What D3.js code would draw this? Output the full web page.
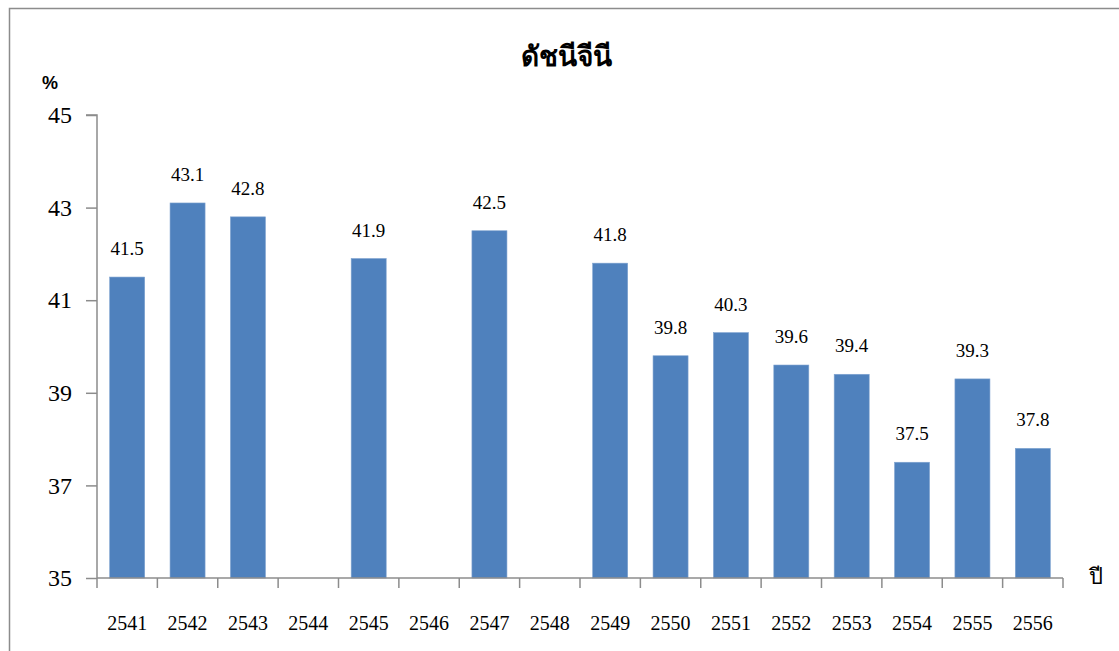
<!DOCTYPE html>
<html>
<head>
<meta charset="utf-8">
<script src="https://cdn.jsdelivr.net/npm/d3@7"></script>
<style>
  html, body { margin: 0; padding: 0; background: #fff; }
  svg { display: block; }
  .serif { font-family: "Liberation Serif", "Times New Roman", Times, "DejaVu Serif", serif; }
  .sans { font-family: "Liberation Sans", Arial, sans-serif; }
</style>
</head>
<body>
<svg id="chart" width="1119" height="651"></svg>
<script>
const title = "ดัชนีจีนี";
const yUnit = "%";
const xUnit = "ปี";
const years = ["2541","2542","2543","2544","2545","2546","2547","2548","2549","2550","2551","2552","2553","2554","2555","2556"];
const giniValues = [41.5, 43.1, 42.8, null, 41.9, null, 42.5, null, 41.8, 39.8, 40.3, 39.6, 39.4, 37.5, 39.3, 37.8];
const yTicks = [35, 37, 39, 41, 43, 45];

(function () {
const svg = d3.select("#chart");
const W = 1119, H = 651;

// outer chart border (left and top visible)
svg.append("rect")
  .attr("x", 9.5).attr("y", 8.5)
  .attr("width", W + 20).attr("height", H + 20)
  .attr("fill", "#fff").attr("stroke", "#8c8c8c").attr("stroke-width", 1.5);

const pLeft = 97, pRight = 1063, pTop = 115, pBottom = 578;

const x = d3.scaleBand().domain(years).range([pLeft, pRight]).paddingInner(0.42).paddingOuter(0.21);
const y = d3.scaleLinear().domain([35, 45]).range([pBottom, pTop]);

// bars
const data = years.map((yr, i) => ({ yr, v: giniValues[i] })).filter(d => d.v !== null);
svg.append("g").selectAll("rect").data(data).enter().append("rect")
  .attr("x", d => x(d.yr))
  .attr("y", d => y(d.v))
  .attr("width", x.bandwidth())
  .attr("height", d => y(35) - y(d.v))
  .attr("fill", "#4F81BD")
  .attr("stroke", "#7FA3D0").attr("stroke-width", 0.6);

// data labels
svg.append("g").selectAll("text").data(data).enter().append("text")
  .attr("class", "serif")
  .attr("x", d => x(d.yr) + x.bandwidth() / 2)
  .attr("y", d => y(d.v) - 22)
  .attr("text-anchor", "middle")
  .style("font-size", "19px").attr("fill", "#000")
  .text(d => d.v.toFixed(1));

// y axis
const yAxis = d3.axisLeft(y).tickValues(yTicks).tickSize(11).tickPadding(14).tickFormat(d3.format("d"));
const gy = svg.append("g").attr("transform", `translate(${pLeft},0)`).call(yAxis);
gy.attr("font-family", null).attr("font-size", null);
gy.select(".domain").attr("stroke", "#8c8c8c").attr("stroke-width", 1.5).attr("d", `M-11,${pTop}H0V${pBottom}`);
gy.selectAll(".tick line").attr("stroke", "#8c8c8c").attr("stroke-width", 1.5);
gy.selectAll(".tick text").attr("class", "serif").style("font-size", "24px").attr("fill", "#000");

// x axis with boundary ticks
const gx = svg.append("g").attr("transform", `translate(0,${pBottom})`);
gx.append("line").attr("x1", pLeft).attr("x2", pRight).attr("y1", 0).attr("y2", 0)
  .attr("stroke", "#8c8c8c").attr("stroke-width", 1.5);
const step = x.step();
const bounds = d3.range(years.length + 1).map(i => pLeft + i * step);
gx.selectAll("line.tk").data(bounds).enter().append("line").attr("class", "tk")
  .attr("x1", d => d).attr("x2", d => d).attr("y1", 0).attr("y2", 10)
  .attr("stroke", "#8c8c8c").attr("stroke-width", 1.5);
gx.selectAll("text").data(years).enter().append("text")
  .attr("class", "serif")
  .attr("x", d => x(d) + x.bandwidth() / 2)
  .attr("y", 52)
  .attr("text-anchor", "middle")
  .style("font-size", "20px").attr("fill", "#000")
  .text(d => d);

// title
svg.append("text").attr("class", "serif").attr("x", 566).attr("y", 66).attr("text-anchor", "middle")
  .style("font-weight", "bold").style("font-size", "28px").attr("fill", "#000")
  .text(title);

// unit labels
svg.append("text").attr("class", "sans").attr("x", 50).attr("y", 89).attr("text-anchor", "middle")
  .style("font-weight", "bold").style("font-size", "18px").attr("fill", "#000")
  .text(yUnit);
svg.append("text").attr("class", "serif").attr("x", 1096).attr("y", 584).attr("text-anchor", "middle")
  .style("font-size", "22px").attr("fill", "#000")
  .text(xUnit);
})();
</script>
</body>
</html>
